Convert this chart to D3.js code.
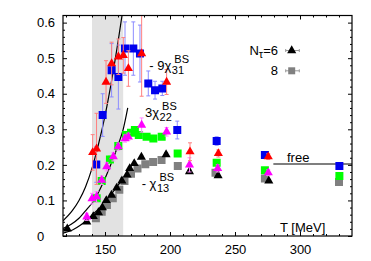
<!DOCTYPE html>
<html>
<head>
	<meta charset="utf-8">
	<title> BS correlations </title>
	<script src="https://d3js.org/d3.v7.min.js"></script>
	<style>
		body { margin: 0; background: #fff; }
		text { font-family: "Liberation Sans", Arial, sans-serif; fill: #000; }
	</style>
</head>
<body>
	<svg id="chart" width="371" height="261"></svg>
	<script type="text/javascript">
		// -9 chi31 : red triangles (Nt=6), blue squares (Nt=8)
		let red31T = [140.5, 143.5, 150.8, 155.1, 160.3, 164.1, 168, 178.2, 197.4, 215.4, 237.2, 275.6];
		let red31V = [0.235, 0.245, 0.433, 0.485, 0.504, 0.508, 0.471, 0.513, 0.433, 0.237, 0.232, 0.223];
		let red31E = [0.05, 0.1, 0.06, 0.06, 0.05, 0.05, 0.05, 0.12, 0.035, 0.025, 0.01, 0.008];
		let blue31T = [143.3, 148.2, 155.1, 160.3, 165.4, 171.8, 176.9, 183.3, 188.5, 194.1, 205.6, 235.9, 273, 330.3];
		let blue31V = [0.201, 0.34, 0.466, 0.447, 0.527, 0.527, 0.513, 0.429, 0.41, 0.415, 0.298, 0.267, 0.228, 0.197];
		let blue31E = [0.05, 0.06, 0.075, 0.09, 0.075, 0.075, 0.08, 0.035, 0.025, 0.02, 0.025, 0.012, 0.008, 0.006];
		// 3 chi22 : magenta triangles (Nt=6), green squares (Nt=8)
		let mag22T = [136, 140, 143.5, 147.5, 151.3, 156.4, 160.2, 165.4, 168, 178.2, 197.4, 215, 236.7, 275.6];
		let mag22V = [0.054, 0.105, 0.11, 0.157, 0.195, 0.223, 0.251, 0.274, 0.279, 0.312, 0.293, 0.2, 0.19, 0.178];
		let mag22E = [0.01, 0.015, 0.015, 0.012, 0.012, 0.012, 0.01, 0.01, 0.01, 0.02, 0.012, 0.02, 0.01, 0.008];
		let green22T = [143.6, 147.5, 153.8, 160.2, 166.2, 170, 173, 176, 182, 187.2, 193.6, 205.9, 235.9, 273, 330.3];
		let green22V = [0.106, 0.155, 0.215, 0.253, 0.284, 0.29, 0.298, 0.284, 0.279, 0.274, 0.279, 0.232, 0.206, 0.185, 0.169];
		let green22E = [0.01, 0.01, 0.01, 0.01, 0.008, 0.008, 0.008, 0.008, 0.006, 0.006, 0.006, 0.008, 0.005, 0.004, 0.003];
		// -chi13 : black triangles (Nt=6), gray squares (Nt=8)
		let blk13T = [121, 136, 141, 145, 148, 151, 155, 159, 163, 167, 169, 172.5, 178, 197, 215, 237, 276];
		let blk13V = [0.02, 0.04, 0.055, 0.066, 0.08, 0.1, 0.115, 0.135, 0.155, 0.172, 0.19, 0.204, 0.222, 0.229, 0.181, 0.17, 0.155];
		let blk13E = [0.003, 0.004, 0.004, 0.004, 0.004, 0.004, 0.004, 0.004, 0.004, 0.004, 0.004, 0.004, 0.005, 0.005, 0.005, 0.004, 0.003];
		let gray13T = [143, 147.5, 151.5, 156, 161, 165, 170, 175, 181, 187, 193.5, 206, 235, 273, 330];
		let gray13V = [0.05, 0.068, 0.087, 0.106, 0.13, 0.155, 0.175, 0.19, 0.202, 0.208, 0.214, 0.197, 0.178, 0.162, 0.152];
		let gray13E = [0.004, 0.004, 0.004, 0.004, 0.004, 0.004, 0.004, 0.004, 0.004, 0.004, 0.004, 0.004, 0.003, 0.003, 0.002];
		// HRG curves
		let hrg31T = [117.7, 125, 130, 135, 140, 145, 150, 155, 160, 163.5];
		let hrg31V = [0.043, 0.072, 0.10, 0.138, 0.19, 0.258, 0.338, 0.435, 0.545, 0.63];
		let hrg22T = [117.7, 124, 130, 136, 141, 146, 151, 156, 161, 164, 167.5];
		let hrg22V = [0.021, 0.033, 0.05, 0.075, 0.097, 0.13, 0.17, 0.215, 0.265, 0.30, 0.36];
		let hrg13T = [117.7, 125, 131, 136, 141, 146, 151, 156, 161, 166, 171];
		let hrg13V = [0.008, 0.017, 0.03, 0.045, 0.062, 0.08, 0.1, 0.123, 0.147, 0.172, 0.2];
		// free limit
		let freeT = [279.5, 340];
		let freeV = [0.2025, 0.2025];
		// transition band
		let bandT = [140, 164];
		// ticks
		let xTicks = [150, 200, 250, 300];
		let yTicks = [0, 0.1, 0.2, 0.3, 0.4, 0.5, 0.6];
		// labels
		let labPre = ["- 9\u03c7", "3\u03c7", "- \u03c7"];
		let labSub = ["31", "22", "13"];
		let labT = [184.1, 180.8, 178.2];
		let labV = [0.468, 0.335, 0.135];

		let svg = d3.select("#chart");
		const L = 63, R = 352, T0 = 15.5, B = 236;
		let x = d3.scaleLinear().domain([117.7, 340]).range([L, R]);
		let y = d3.scaleLinear().domain([0, 0.62]).range([B, T0]);

		svg.append("rect").attr("width", 371).attr("height", 261).attr("fill", "#fff");

		svg.append("clipPath").attr("id", "clip")
			.append("rect").attr("x", L).attr("y", T0).attr("width", R - L).attr("height", B - T0);
		let plot = svg.append("g").attr("clip-path", "url(#clip)");

		// shaded band
		plot.append("rect")
			.attr("x", x(bandT[0])).attr("y", T0)
			.attr("width", x(bandT[1]) - x(bandT[0])).attr("height", B - T0)
			.attr("fill", "#e2e2e2");

		// curves
		let line = d3.line().x(d => x(d[0])).y(d => y(d[1])).curve(d3.curveMonotoneX);
		[[hrg31T, hrg31V], [hrg22T, hrg22V], [hrg13T, hrg13V], [freeT, freeV]].forEach(function(c) {
			plot.append("path")
				.datum(d3.zip(c[0], c[1]))
				.attr("fill", "none")
				.attr("stroke", "#000")
				.attr("stroke-width", 1.2)
				.attr("d", line);
		});

		let series = [
			{ t: gray13T, v: gray13V, e: gray13E, shape: d3.symbolSquare, fill: "#808080", bar: "#aaaaaa" },
			{ t: green22T, v: green22V, e: green22E, shape: d3.symbolSquare, fill: "#00ff00", bar: "#80ff80" },
			{ t: blue31T, v: blue31V, e: blue31E, shape: d3.symbolSquare, fill: "#0000ee", bar: "#8c8cff" },
			{ t: blk13T, v: blk13V, e: blk13E, shape: d3.symbolTriangle, fill: "#000", bar: "#888" },
			{ t: mag22T, v: mag22V, e: mag22E, shape: d3.symbolTriangle, fill: "#ff00ff", bar: "#ff88ff" },
			{ t: red31T, v: red31V, e: red31E, shape: d3.symbolTriangle, fill: "#ff0000", bar: "#ff8080" }
		];

		function drawSeries(s)
		{
			let pts = s.t.map((t, i) => ({ t: t, v: s.v[i], e: s.e[i] }));
			let g = plot.append("g");
			let eb = g.selectAll("g.eb").data(pts).enter().append("g").attr("stroke", s.bar).attr("stroke-width", 1);
			eb.append("line")
				.attr("x1", d => x(d.t)).attr("x2", d => x(d.t))
				.attr("y1", d => y(d.v - d.e)).attr("y2", d => y(d.v + d.e));
			eb.append("line")
				.attr("x1", d => x(d.t) - 2).attr("x2", d => x(d.t) + 2)
				.attr("y1", d => y(d.v + d.e)).attr("y2", d => y(d.v + d.e));
			eb.append("line")
				.attr("x1", d => x(d.t) - 2).attr("x2", d => x(d.t) + 2)
				.attr("y1", d => y(d.v - d.e)).attr("y2", d => y(d.v - d.e));
			let size = s.shape === d3.symbolSquare ? 64 : 36;
			g.selectAll("path.m").data(pts).enter().append("path")
				.attr("transform", d => "translate(" + x(d.t) + "," + y(d.v) + ")")
				.attr("d", d3.symbol().type(s.shape).size(size))
				.attr("fill", s.fill);
		}
		series.forEach(drawSeries);

		// axes, ticks inward on all four sides
		function fmt(d) { return d === 0 ? "0" : d3.format(".1f")(d); }
		let minorX = d3.range(120, 340, 10).filter(d => xTicks.indexOf(d) < 0);
		let minorY = d3.range(0, 0.62, 0.02).filter((d, i) => i % 5 != 0);

		let ax = svg.append("g").attr("transform", "translate(0," + B + ")")
			.call(d3.axisBottom(x).tickValues(xTicks).tickSize(-4).tickFormat(d3.format("d")));
		ax.selectAll("text").attr("y", 17.5).attr("dy", 0).style("font-size", "13px");
		svg.append("g").attr("transform", "translate(0," + B + ")")
			.call(d3.axisBottom(x).tickValues(minorX).tickSize(-2).tickFormat(""));
		svg.append("g").attr("transform", "translate(0," + T0 + ")")
			.call(d3.axisTop(x).tickValues(xTicks).tickSize(-4).tickFormat(""));
		svg.append("g").attr("transform", "translate(0," + T0 + ")")
			.call(d3.axisTop(x).tickValues(minorX).tickSize(-2).tickFormat(""));

		let ay = svg.append("g").attr("transform", "translate(" + L + ",0)")
			.call(d3.axisLeft(y).tickValues(yTicks).tickSize(-4).tickFormat(fmt));
		ay.selectAll("text").attr("x", 37 - L).attr("text-anchor", "start").style("font-size", "13px");
		svg.append("g").attr("transform", "translate(" + L + ",0)")
			.call(d3.axisLeft(y).tickValues(minorY).tickSize(-2).tickFormat(""));
		svg.append("g").attr("transform", "translate(" + R + ",0)")
			.call(d3.axisRight(y).tickValues(yTicks).tickSize(-4).tickFormat(""));
		svg.append("g").attr("transform", "translate(" + R + ",0)")
			.call(d3.axisRight(y).tickValues(minorY).tickSize(-2).tickFormat(""));

		svg.selectAll(".domain").remove();
		svg.selectAll(".tick line").attr("stroke", "#000");
		svg.selectAll(".tick text").attr("font-family", null);

		svg.append("rect")
			.attr("x", L).attr("y", T0).attr("width", R - L).attr("height", B - T0)
			.attr("fill", "none").attr("stroke", "#000").attr("stroke-width", 1.2);

		// curve labels
		labPre.forEach(function(p, i) {
			let t = svg.append("text").attr("x", x(labT[i])).attr("y", y(labV[i])).style("font-size", "13px").text(p);
			let w = t.node().getComputedTextLength();
			svg.append("text").attr("x", x(labT[i]) + w + 0.5).attr("y", y(labV[i]) + 4).style("font-size", "11px").text(labSub[i]);
			svg.append("text").attr("x", x(labT[i]) + w + 3).attr("y", y(labV[i]) - 6.5).style("font-size", "11px").text("BS");
		});

		svg.append("text").attr("x", 287).attr("y", 161.5).style("font-size", "13px").text("free");
		svg.append("text").attr("x", 280).attr("y", 231.5).style("font-size", "13px").text("T [MeV]");

		// legend
		let leg = svg.append("g");
		let l1 = leg.append("text").attr("x", 278).attr("y", 54.5).attr("text-anchor", "end").style("font-size", "13px");
		l1.append("tspan").text("N");
		l1.append("tspan").attr("dy", 3).style("font-size", "11px").text("\u03c4");
		l1.append("tspan").attr("dy", -3).text("=6");
		leg.append("text").attr("x", 278).attr("y", 75).attr("text-anchor", "end").style("font-size", "13px").text("8");
		[[50.5, d3.symbolTriangle, "#000", 36], [70.8, d3.symbolSquare, "#808080", 49]].forEach(function(m) {
			leg.append("line").attr("x1", 285.7).attr("x2", 299.3).attr("y1", m[0]).attr("y2", m[0]).attr("stroke", "#999");
			leg.append("line").attr("x1", 285.7).attr("x2", 285.7).attr("y1", m[0] - 1.5).attr("y2", m[0] + 1.5).attr("stroke", "#999");
			leg.append("line").attr("x1", 299.3).attr("x2", 299.3).attr("y1", m[0] - 1.5).attr("y2", m[0] + 1.5).attr("stroke", "#999");
			leg.append("path").attr("transform", "translate(291.7," + m[0] + ")")
				.attr("d", d3.symbol().type(m[1]).size(m[3])).attr("fill", m[2]);
		});
	</script>
</body>
</html>
